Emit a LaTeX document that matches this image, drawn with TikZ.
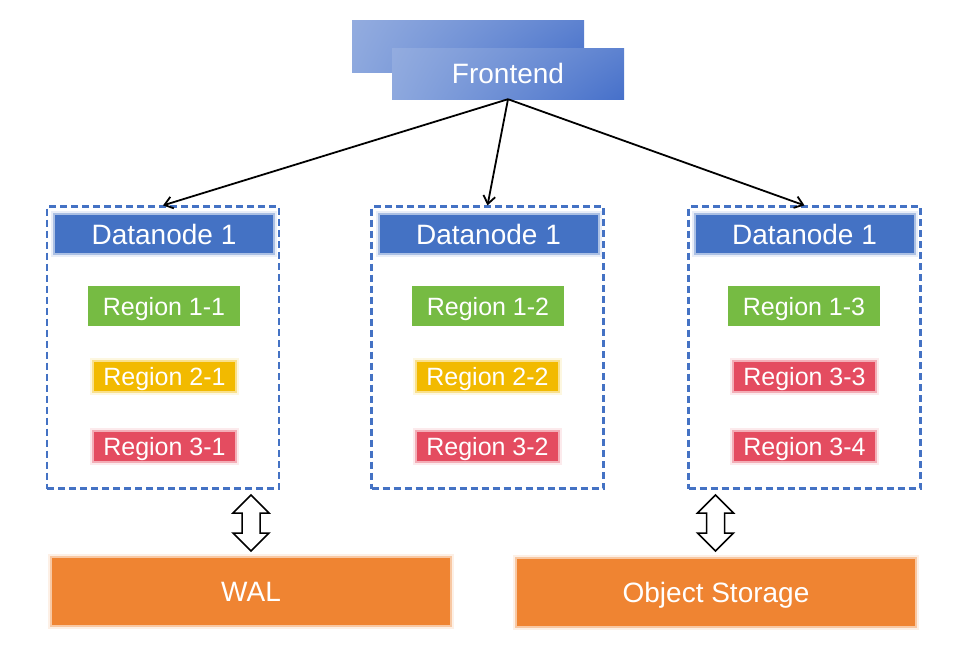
\documentclass[tikz,border=0pt]{standalone}
\usepackage{fontspec}
\setmainfont{Liberation Sans}
\usetikzlibrary{arrows.meta,shadings}
\definecolor{dnblue}{HTML}{4472C4}
\definecolor{feUL}{HTML}{93ACDF}
\definecolor{feLL}{HTML}{8DA8DE}
\definecolor{feUR}{HTML}{5D82D0}
\definecolor{feLR}{HTML}{4670CA}
\definecolor{rgreen}{HTML}{76BB43}
\definecolor{ryellow}{HTML}{F2BA00}
\definecolor{rred}{HTML}{E44C60}
\definecolor{orng}{HTML}{EF8432}
\begin{document}
\begin{tikzpicture}[x=1pt,y=-1pt,
  fefill/.style={upper left=feUL, upper right=feUR, lower left=feLL, lower right=feLR},
  txt/.style={text=white, text depth=0pt, inner sep=0pt},
  glow/.style={preaction={draw=#1!12, line width=6pt}, draw=#1!45, line width=2pt},
  frontbox/.style={fefill, txt, minimum width=232pt, minimum height=51pt, font=\fontsize{28}{30}\selectfont},
  dnbox/.style={draw=dnblue, line width=2.2pt, dash pattern=on 7pt off 4pt, minimum width=232pt, minimum height=282pt, inner sep=0pt},
  header/.style={fill=dnblue, glow=dnblue, txt, minimum width=220pt, minimum height=40pt, font=\fontsize{28}{30}\selectfont},
  greenreg/.style={fill=rgreen, txt, minimum width=152pt, minimum height=40pt, font=\fontsize{25}{27}\selectfont},
  glowreg/.style={fill=#1, glow=#1, txt, minimum width=143pt, minimum height=31pt, font=\fontsize{25}{27}\selectfont},
  store/.style={fill=orng, glow=orng, txt, minimum width=400pt, minimum height=69pt, font=\fontsize{28}{30}\selectfont},
  conn/.style={draw=black, line width=1.8pt, -{Straight Barb[length=8pt,width=12pt]}},
  blockarrow/.style={draw=black, fill=white, line width=1.5pt, line join=miter}
]
\useasboundingbox (0,0) rectangle (964,654);

% Frontend
\shade[fefill] (352,20) rectangle (584,72);
\node[frontbox] (fe) at (508,73.5) {Frontend};

% Datanode containers
\node[dnbox] (b1) at (163,347.5) {};
\node[dnbox] (b2) at (487.5,347.5) {};
\node[dnbox] (b3) at (804.5,347.5) {};

% Headers
\node[header] (h1) at (164,234) {Datanode 1};
\node[header] (h2) at (488.5,234) {Datanode 1};
\node[header] (h3) at (804.5,234) {Datanode 1};

% Regions
\node[greenreg] (r11) at (164,306) {Region 1-1};
\node[glowreg=ryellow] (r21) at (164.5,376.5) {Region 2-1};
\node[glowreg=rred] (r31) at (164.5,446.5) {Region 3-1};

\node[greenreg] (r12) at (488,306) {Region 1-2};
\node[glowreg=ryellow] (r22) at (487.5,376.5) {Region 2-2};
\node[glowreg=rred] (r32) at (487.5,446.5) {Region 3-2};

\node[greenreg] (r13) at (804,306) {Region 1-3};
\node[glowreg=rred] (r33) at (804.5,376.5) {Region 3-3};
\node[glowreg=rred] (r34) at (804.5,446.5) {Region 3-4};

% Storage
\node[store] (wal) at (251,591.5) {WAL};
\node[store] (obj) at (716,592) {Object Storage};

% Connectors
\draw[conn] (fe.south) -- (b1.north);
\draw[conn] (fe.south) -- (b2.north);
\draw[conn] (fe.south) -- (b3.north);

% Block double arrows
\foreach \cx in {251,715.5} {
  \draw[blockarrow] (\cx,495) -- ++(18,18) -- ++(-9,0) -- ++(0,20) -- ++(9,0)
    -- (\cx,551) -- ++(-18,-18) -- ++(9,0) -- ++(0,-20) -- ++(-9,0) -- cycle;
}
\end{tikzpicture}
\end{document}
